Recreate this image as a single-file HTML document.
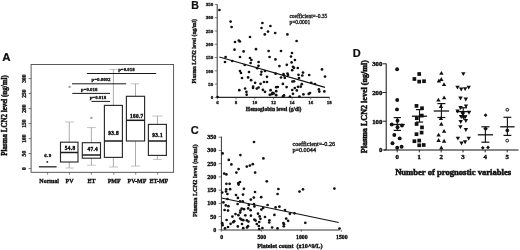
<!DOCTYPE html>
<html><head><meta charset="utf-8"><style>
html,body{margin:0;padding:0;background:#fff;width:520px;height:250px;overflow:hidden}
svg{display:block;will-change:transform}
</style></head><body>
<svg width="520" height="250" viewBox="0 0 520 250">
<rect width="520" height="250" fill="#fff"/>
<text x="2.2" y="61.4" font-size="11.5" font-weight="bold" font-family='"Liberation Sans", sans-serif' text-anchor="start" fill="#111" stroke="#111" stroke-width="0.23">A</text>
<rect x="31.1" y="64.5" width="142.5" height="107.8" stroke="#4a4a4a" stroke-width="0.9" fill="none"/>
<line x1="28.6" y1="168.6" x2="31.1" y2="168.6" stroke="#555" stroke-width="0.8"/>
<text x="25.6" y="168.6" font-size="5.6" font-weight="bold" font-family='"Liberation Serif", serif' text-anchor="middle" fill="#111" stroke="#111" stroke-width="0.336" transform="rotate(-90 25.6 168.6)">0</text>
<line x1="28.6" y1="153.6" x2="31.1" y2="153.6" stroke="#555" stroke-width="0.8"/>
<text x="25.6" y="153.6" font-size="5.6" font-weight="bold" font-family='"Liberation Serif", serif' text-anchor="middle" fill="#111" stroke="#111" stroke-width="0.336" transform="rotate(-90 25.6 153.6)">50</text>
<line x1="28.6" y1="138.6" x2="31.1" y2="138.6" stroke="#555" stroke-width="0.8"/>
<text x="25.6" y="138.6" font-size="5.6" font-weight="bold" font-family='"Liberation Serif", serif' text-anchor="middle" fill="#111" stroke="#111" stroke-width="0.336" transform="rotate(-90 25.6 138.6)">100</text>
<line x1="28.6" y1="123.6" x2="31.1" y2="123.6" stroke="#555" stroke-width="0.8"/>
<text x="25.6" y="123.6" font-size="5.6" font-weight="bold" font-family='"Liberation Serif", serif' text-anchor="middle" fill="#111" stroke="#111" stroke-width="0.336" transform="rotate(-90 25.6 123.6)">150</text>
<line x1="28.6" y1="108.6" x2="31.1" y2="108.6" stroke="#555" stroke-width="0.8"/>
<text x="25.6" y="108.6" font-size="5.6" font-weight="bold" font-family='"Liberation Serif", serif' text-anchor="middle" fill="#111" stroke="#111" stroke-width="0.336" transform="rotate(-90 25.6 108.6)">200</text>
<line x1="28.6" y1="93.6" x2="31.1" y2="93.6" stroke="#555" stroke-width="0.8"/>
<text x="25.6" y="93.6" font-size="5.6" font-weight="bold" font-family='"Liberation Serif", serif' text-anchor="middle" fill="#111" stroke="#111" stroke-width="0.336" transform="rotate(-90 25.6 93.6)">250</text>
<line x1="28.6" y1="78.6" x2="31.1" y2="78.6" stroke="#555" stroke-width="0.8"/>
<text x="25.6" y="78.6" font-size="5.6" font-weight="bold" font-family='"Liberation Serif", serif' text-anchor="middle" fill="#111" stroke="#111" stroke-width="0.336" transform="rotate(-90 25.6 78.6)">300</text>
<text x="0" y="0" font-size="7.6" font-weight="bold" font-family='"Liberation Serif", serif' text-anchor="middle" fill="#111" stroke="#111" stroke-width="0.456" transform="translate(6.5 115.5) rotate(-90) scale(0.92 1.0)">Plasma LCN2 level (ng/ml)</text>
<line x1="47.6" y1="172.3" x2="47.6" y2="174.6" stroke="#555" stroke-width="0.8"/>
<line x1="69.4" y1="172.3" x2="69.4" y2="174.6" stroke="#555" stroke-width="0.8"/>
<line x1="91.4" y1="172.3" x2="91.4" y2="174.6" stroke="#555" stroke-width="0.8"/>
<line x1="113.8" y1="172.3" x2="113.8" y2="174.6" stroke="#555" stroke-width="0.8"/>
<line x1="135.7" y1="172.3" x2="135.7" y2="174.6" stroke="#555" stroke-width="0.8"/>
<line x1="157.7" y1="172.3" x2="157.7" y2="174.6" stroke="#555" stroke-width="0.8"/>
<text x="49.2" y="182.8" font-size="6.0" font-weight="bold" font-family='"Liberation Serif", serif' text-anchor="middle" fill="#111" stroke="#111" stroke-width="0.36">Normal</text>
<text x="69.5" y="182.8" font-size="6.0" font-weight="bold" font-family='"Liberation Serif", serif' text-anchor="middle" fill="#111" stroke="#111" stroke-width="0.36">PV</text>
<text x="91.4" y="182.8" font-size="6.0" font-weight="bold" font-family='"Liberation Serif", serif' text-anchor="middle" fill="#111" stroke="#111" stroke-width="0.36">ET</text>
<text x="114.2" y="182.8" font-size="6.0" font-weight="bold" font-family='"Liberation Serif", serif' text-anchor="middle" fill="#111" stroke="#111" stroke-width="0.36">PMF</text>
<text x="137" y="182.8" font-size="6.0" font-weight="bold" font-family='"Liberation Serif", serif' text-anchor="middle" fill="#111" stroke="#111" stroke-width="0.36">PV-MF</text>
<text x="158.9" y="182.8" font-size="6.0" font-weight="bold" font-family='"Liberation Serif", serif' text-anchor="middle" fill="#111" stroke="#111" stroke-width="0.36">ET-MF</text>
<line x1="69.25" y1="122" x2="69.25" y2="142.2" stroke="#888" stroke-width="0.7"/>
<line x1="69.25" y1="162" x2="69.25" y2="168" stroke="#888" stroke-width="0.7"/>
<line x1="65" y1="122" x2="74" y2="122" stroke="#aaa" stroke-width="0.7"/>
<line x1="65.6" y1="168" x2="73.6" y2="168" stroke="#aaa" stroke-width="0.7"/>
<rect x="60.5" y="142.2" width="17.5" height="19.80000000000001" stroke="#2a2a2a" stroke-width="1.15" fill="none"/>
<line x1="60.5" y1="152.5" x2="78" y2="152.5" stroke="#1a1a1a" stroke-width="1.5"/>
<line x1="91.4" y1="127.6" x2="91.4" y2="142.7" stroke="#888" stroke-width="0.7"/>
<line x1="91.4" y1="158.2" x2="91.4" y2="165.2" stroke="#888" stroke-width="0.7"/>
<line x1="87" y1="127.6" x2="95.8" y2="127.6" stroke="#aaa" stroke-width="0.7"/>
<line x1="87" y1="165.2" x2="95.8" y2="165.2" stroke="#aaa" stroke-width="0.7"/>
<rect x="82.3" y="142.7" width="18.200000000000003" height="15.5" stroke="#2a2a2a" stroke-width="1.15" fill="none"/>
<line x1="82.3" y1="155" x2="100.5" y2="155" stroke="#1a1a1a" stroke-width="1.5"/>
<line x1="113.4" y1="69.4" x2="113.4" y2="105.4" stroke="#888" stroke-width="0.7"/>
<line x1="113.4" y1="157.4" x2="113.4" y2="167" stroke="#888" stroke-width="0.7"/>
<line x1="109.2" y1="69.4" x2="117" y2="69.4" stroke="#aaa" stroke-width="0.7"/>
<line x1="109" y1="167" x2="118" y2="167" stroke="#aaa" stroke-width="0.7"/>
<rect x="104.4" y="105.4" width="18.0" height="52.0" stroke="#2a2a2a" stroke-width="1.15" fill="none"/>
<line x1="104.4" y1="141" x2="122.4" y2="141" stroke="#1a1a1a" stroke-width="1.5"/>
<line x1="135.5" y1="83.8" x2="135.5" y2="96.3" stroke="#888" stroke-width="0.7"/>
<line x1="135.5" y1="141" x2="135.5" y2="166" stroke="#888" stroke-width="0.7"/>
<line x1="130.8" y1="83.8" x2="139.2" y2="83.8" stroke="#aaa" stroke-width="0.7"/>
<line x1="131" y1="166" x2="140" y2="166" stroke="#aaa" stroke-width="0.7"/>
<rect x="126.4" y="96.3" width="18.19999999999999" height="44.7" stroke="#2a2a2a" stroke-width="1.15" fill="none"/>
<line x1="126.4" y1="120.3" x2="144.6" y2="120.3" stroke="#1a1a1a" stroke-width="1.5"/>
<line x1="157.4" y1="116" x2="157.4" y2="124.4" stroke="#888" stroke-width="0.7"/>
<line x1="157.4" y1="155.4" x2="157.4" y2="159.4" stroke="#888" stroke-width="0.7"/>
<line x1="152.4" y1="116" x2="162.4" y2="116" stroke="#aaa" stroke-width="0.7"/>
<line x1="153" y1="159.4" x2="161.6" y2="159.4" stroke="#aaa" stroke-width="0.7"/>
<rect x="148.4" y="124.4" width="18.0" height="31.0" stroke="#2a2a2a" stroke-width="1.15" fill="none"/>
<line x1="148.4" y1="141" x2="166.4" y2="141" stroke="#1a1a1a" stroke-width="1.5"/>
<line x1="38.9" y1="166.8" x2="56.6" y2="166.8" stroke="#333" stroke-width="1.4"/>
<circle cx="47.3" cy="161.9" r="0.95" fill="#222"/>
<text x="47.9" y="157.2" font-size="5.0" font-weight="bold" font-family='"Liberation Serif", serif' text-anchor="middle" fill="#111" stroke="#111" stroke-width="0.35" letter-spacing="0.35">6.9</text>
<text x="69.5" y="89.10000000000001" font-size="4.5" font-weight="bold" font-family='"Liberation Serif", serif' text-anchor="middle" fill="#888" stroke="#888" stroke-width="0.27">*</text>
<text x="91.4" y="120.2" font-size="4.5" font-weight="bold" font-family='"Liberation Serif", serif' text-anchor="middle" fill="#888" stroke="#888" stroke-width="0.27">*</text>
<text x="70.08000000000001" y="149.8" font-size="5.3" font-weight="bold" font-family='"Liberation Serif", serif' text-anchor="middle" fill="#111" stroke="#111" stroke-width="0.4" letter-spacing="0.35">54.8</text>
<text x="92.78" y="151.10000000000002" font-size="5.3" font-weight="bold" font-family='"Liberation Serif", serif' text-anchor="middle" fill="#111" stroke="#111" stroke-width="0.4" letter-spacing="0.35">47.4</text>
<text x="113.58000000000001" y="135.4" font-size="5.3" font-weight="bold" font-family='"Liberation Serif", serif' text-anchor="middle" fill="#111" stroke="#111" stroke-width="0.4" letter-spacing="0.35">93.8</text>
<text x="136.78" y="117.7" font-size="5.3" font-weight="bold" font-family='"Liberation Serif", serif' text-anchor="middle" fill="#111" stroke="#111" stroke-width="0.4" letter-spacing="0.35">160.7</text>
<text x="157.68" y="137.4" font-size="5.3" font-weight="bold" font-family='"Liberation Serif", serif' text-anchor="middle" fill="#111" stroke="#111" stroke-width="0.4" letter-spacing="0.35">93.1</text>
<line x1="86.9" y1="73.5" x2="156.2" y2="73.5" stroke="#1a1a1a" stroke-width="1.0"/>
<line x1="72" y1="83.8" x2="126.2" y2="83.8" stroke="#1a1a1a" stroke-width="1.0"/>
<line x1="72.3" y1="93.4" x2="110" y2="93.4" stroke="#1a1a1a" stroke-width="1.0"/>
<line x1="91.5" y1="101.4" x2="110" y2="101.4" stroke="#1a1a1a" stroke-width="1.0"/>
<text x="126.4" y="71.19999999999999" font-size="4.9" font-weight="bold" font-family='"Liberation Serif", serif' text-anchor="middle" fill="#111" stroke="#111" stroke-width="0.294">p=0.018</text>
<text x="101" y="81.3" font-size="4.9" font-weight="bold" font-family='"Liberation Serif", serif' text-anchor="middle" fill="#111" stroke="#111" stroke-width="0.294">p=0.0002</text>
<text x="89.2" y="91.1" font-size="4.9" font-weight="bold" font-family='"Liberation Serif", serif' text-anchor="middle" fill="#111" stroke="#111" stroke-width="0.294">p=0.018</text>
<text x="97.9" y="99.3" font-size="4.9" font-weight="bold" font-family='"Liberation Serif", serif' text-anchor="middle" fill="#111" stroke="#111" stroke-width="0.294">p=0.018</text>
<text x="191.3" y="8.6" font-size="10.6" font-weight="bold" font-family='"Liberation Sans", sans-serif' text-anchor="start" fill="#111" stroke="#111" stroke-width="0.212">B</text>
<line x1="217.2" y1="4.2" x2="217.2" y2="97.4" stroke="#2a2a2a" stroke-width="0.95"/>
<line x1="217.2" y1="97.4" x2="329.6" y2="97.4" stroke="#2a2a2a" stroke-width="1.1"/>
<line x1="214.8" y1="97.4" x2="217" y2="97.4" stroke="#444" stroke-width="0.7"/>
<text x="213.3" y="99.10000000000001" font-size="5.0" font-weight="bold" font-family='"Liberation Serif", serif' text-anchor="end" fill="#111" stroke="#111" stroke-width="0.3">0</text>
<line x1="214.8" y1="84.11500000000001" x2="217" y2="84.11500000000001" stroke="#444" stroke-width="0.7"/>
<text x="213.3" y="85.81500000000001" font-size="5.0" font-weight="bold" font-family='"Liberation Serif", serif' text-anchor="end" fill="#111" stroke="#111" stroke-width="0.3">50</text>
<line x1="214.8" y1="70.83000000000001" x2="217" y2="70.83000000000001" stroke="#444" stroke-width="0.7"/>
<text x="213.3" y="72.53000000000002" font-size="5.0" font-weight="bold" font-family='"Liberation Serif", serif' text-anchor="end" fill="#111" stroke="#111" stroke-width="0.3">100</text>
<line x1="214.8" y1="57.54500000000001" x2="217" y2="57.54500000000001" stroke="#444" stroke-width="0.7"/>
<text x="213.3" y="59.24500000000001" font-size="5.0" font-weight="bold" font-family='"Liberation Serif", serif' text-anchor="end" fill="#111" stroke="#111" stroke-width="0.3">150</text>
<line x1="214.8" y1="44.260000000000005" x2="217" y2="44.260000000000005" stroke="#444" stroke-width="0.7"/>
<text x="213.3" y="45.96000000000001" font-size="5.0" font-weight="bold" font-family='"Liberation Serif", serif' text-anchor="end" fill="#111" stroke="#111" stroke-width="0.3">200</text>
<line x1="214.8" y1="30.97500000000001" x2="217" y2="30.97500000000001" stroke="#444" stroke-width="0.7"/>
<text x="213.3" y="32.67500000000001" font-size="5.0" font-weight="bold" font-family='"Liberation Serif", serif' text-anchor="end" fill="#111" stroke="#111" stroke-width="0.3">250</text>
<line x1="214.8" y1="17.690000000000012" x2="217" y2="17.690000000000012" stroke="#444" stroke-width="0.7"/>
<text x="213.3" y="19.39000000000001" font-size="5.0" font-weight="bold" font-family='"Liberation Serif", serif' text-anchor="end" fill="#111" stroke="#111" stroke-width="0.3">300</text>
<line x1="214.8" y1="4.405000000000015" x2="217" y2="4.405000000000015" stroke="#444" stroke-width="0.7"/>
<text x="213.3" y="6.1050000000000155" font-size="5.0" font-weight="bold" font-family='"Liberation Serif", serif' text-anchor="end" fill="#111" stroke="#111" stroke-width="0.3">350</text>
<line x1="217.4" y1="97.4" x2="217.4" y2="99.4" stroke="#444" stroke-width="0.7"/>
<text x="217.4" y="103.6" font-size="5.0" font-weight="bold" font-family='"Liberation Serif", serif' text-anchor="middle" fill="#111" stroke="#111" stroke-width="0.3">6</text>
<line x1="236.06" y1="97.4" x2="236.06" y2="99.4" stroke="#444" stroke-width="0.7"/>
<text x="236.06" y="103.6" font-size="5.0" font-weight="bold" font-family='"Liberation Serif", serif' text-anchor="middle" fill="#111" stroke="#111" stroke-width="0.3">8</text>
<line x1="254.72" y1="97.4" x2="254.72" y2="99.4" stroke="#444" stroke-width="0.7"/>
<text x="254.72" y="103.6" font-size="5.0" font-weight="bold" font-family='"Liberation Serif", serif' text-anchor="middle" fill="#111" stroke="#111" stroke-width="0.3">10</text>
<line x1="273.38" y1="97.4" x2="273.38" y2="99.4" stroke="#444" stroke-width="0.7"/>
<text x="273.38" y="103.6" font-size="5.0" font-weight="bold" font-family='"Liberation Serif", serif' text-anchor="middle" fill="#111" stroke="#111" stroke-width="0.3">12</text>
<line x1="292.04" y1="97.4" x2="292.04" y2="99.4" stroke="#444" stroke-width="0.7"/>
<text x="292.04" y="103.6" font-size="5.0" font-weight="bold" font-family='"Liberation Serif", serif' text-anchor="middle" fill="#111" stroke="#111" stroke-width="0.3">14</text>
<line x1="310.7" y1="97.4" x2="310.7" y2="99.4" stroke="#444" stroke-width="0.7"/>
<text x="310.7" y="103.6" font-size="5.0" font-weight="bold" font-family='"Liberation Serif", serif' text-anchor="middle" fill="#111" stroke="#111" stroke-width="0.3">16</text>
<line x1="329.36" y1="97.4" x2="329.36" y2="99.4" stroke="#444" stroke-width="0.7"/>
<text x="329.36" y="103.6" font-size="5.0" font-weight="bold" font-family='"Liberation Serif", serif' text-anchor="middle" fill="#111" stroke="#111" stroke-width="0.3">18</text>
<text x="196.4" y="51.3" font-size="5.6" font-weight="bold" font-family='"Liberation Serif", serif' text-anchor="middle" fill="#111" stroke="#111" stroke-width="0.336" transform="rotate(-90 196.4 51.3)">Plasma LCN2 level (ng/ml)</text>
<text x="273.6" y="111.2" font-size="5.6" font-weight="bold" font-family='"Liberation Serif", serif' text-anchor="middle" fill="#111" stroke="#111" stroke-width="0.336">Hemoglobin level (g/dl)</text>
<text x="289.4" y="18.2" font-size="5.5" font-weight="normal" font-family='"Liberation Serif", serif' text-anchor="start" fill="#111" stroke="#111" stroke-width="0.275">coefficient=-0.35</text>
<text x="289.4" y="24.2" font-size="5.5" font-weight="normal" font-family='"Liberation Serif", serif' text-anchor="start" fill="#111" stroke="#111" stroke-width="0.275">p=0.0001</text>
<line x1="219.4" y1="57" x2="325" y2="87.4" stroke="#111" stroke-width="1.2"/>
<circle cx="219.4" cy="10.0" r="1.35" fill="#111"/>
<circle cx="230.6" cy="21.6" r="1.35" fill="#111"/>
<circle cx="231.6" cy="27.0" r="1.35" fill="#111"/>
<circle cx="235.0" cy="42.0" r="1.35" fill="#111"/>
<circle cx="250.0" cy="37.0" r="1.35" fill="#111"/>
<circle cx="234.5" cy="49.7" r="1.35" fill="#111"/>
<circle cx="256.0" cy="49.2" r="1.35" fill="#111"/>
<circle cx="262.4" cy="23.0" r="1.35" fill="#111"/>
<circle cx="261.5" cy="28.0" r="1.35" fill="#111"/>
<circle cx="264.8" cy="34.4" r="1.35" fill="#111"/>
<circle cx="270.4" cy="26.0" r="1.35" fill="#111"/>
<circle cx="268.0" cy="31.6" r="1.35" fill="#111"/>
<circle cx="275.2" cy="33.0" r="1.35" fill="#111"/>
<circle cx="287.4" cy="34.4" r="1.35" fill="#111"/>
<circle cx="296.6" cy="41.0" r="1.35" fill="#111"/>
<circle cx="225.6" cy="57.0" r="1.35" fill="#111"/>
<circle cx="225.0" cy="62.0" r="1.35" fill="#111"/>
<circle cx="240.0" cy="57.0" r="1.35" fill="#111"/>
<circle cx="243.6" cy="51.4" r="1.35" fill="#111"/>
<circle cx="244.7" cy="65.0" r="1.35" fill="#111"/>
<circle cx="240.0" cy="71.0" r="1.35" fill="#111"/>
<circle cx="241.0" cy="73.0" r="1.35" fill="#111"/>
<circle cx="242.0" cy="78.0" r="1.35" fill="#111"/>
<circle cx="248.1" cy="77.4" r="1.35" fill="#111"/>
<circle cx="249.0" cy="72.0" r="1.35" fill="#111"/>
<circle cx="250.0" cy="58.0" r="1.35" fill="#111"/>
<circle cx="251.4" cy="60.0" r="1.35" fill="#111"/>
<circle cx="250.6" cy="63.0" r="1.35" fill="#111"/>
<circle cx="251.1" cy="80.2" r="1.35" fill="#111"/>
<circle cx="258.6" cy="62.0" r="1.35" fill="#111"/>
<circle cx="255.1" cy="82.8" r="1.35" fill="#111"/>
<circle cx="253.1" cy="86.7" r="1.35" fill="#111"/>
<circle cx="253.0" cy="88.0" r="1.35" fill="#111"/>
<circle cx="239.3" cy="90.2" r="1.35" fill="#111"/>
<circle cx="245.1" cy="88.5" r="1.35" fill="#111"/>
<circle cx="246.4" cy="91.8" r="1.35" fill="#111"/>
<circle cx="246.7" cy="94.7" r="1.35" fill="#111"/>
<circle cx="232.2" cy="61.0" r="1.35" fill="#111"/>
<circle cx="268.6" cy="51.0" r="1.35" fill="#111"/>
<circle cx="281.0" cy="51.0" r="1.35" fill="#111"/>
<circle cx="269.6" cy="57.0" r="1.35" fill="#111"/>
<circle cx="275.4" cy="59.4" r="1.35" fill="#111"/>
<circle cx="292.0" cy="53.0" r="1.35" fill="#111"/>
<circle cx="291.0" cy="56.6" r="1.35" fill="#111"/>
<circle cx="294.9" cy="60.0" r="1.35" fill="#111"/>
<circle cx="291.6" cy="62.4" r="1.35" fill="#111"/>
<circle cx="303.0" cy="72.6" r="1.35" fill="#111"/>
<circle cx="302.3" cy="75.5" r="1.35" fill="#111"/>
<circle cx="309.2" cy="75.0" r="1.35" fill="#111"/>
<circle cx="301.8" cy="84.2" r="1.35" fill="#111"/>
<circle cx="300.7" cy="86.7" r="1.35" fill="#111"/>
<circle cx="303.4" cy="94.3" r="1.35" fill="#111"/>
<circle cx="322.0" cy="69.4" r="1.35" fill="#111"/>
<circle cx="325.0" cy="76.6" r="1.35" fill="#111"/>
<circle cx="311.2" cy="82.8" r="1.35" fill="#111"/>
<circle cx="315.0" cy="84.0" r="1.35" fill="#111"/>
<circle cx="318.9" cy="89.4" r="1.35" fill="#111"/>
<circle cx="319.3" cy="91.6" r="1.35" fill="#111"/>
<circle cx="324.3" cy="91.4" r="1.35" fill="#111"/>
<circle cx="308.7" cy="93.9" r="1.35" fill="#111"/>
<circle cx="310.0" cy="93.0" r="1.35" fill="#111"/>
<circle cx="258.5" cy="65.8" r="1.35" fill="#111"/>
<circle cx="257.2" cy="68.2" r="1.35" fill="#111"/>
<circle cx="261.5" cy="71.8" r="1.35" fill="#111"/>
<circle cx="261.0" cy="74.5" r="1.35" fill="#111"/>
<circle cx="265.0" cy="71.0" r="1.35" fill="#111"/>
<circle cx="267.0" cy="76.8" r="1.35" fill="#111"/>
<circle cx="275.6" cy="73.7" r="1.35" fill="#111"/>
<circle cx="260.6" cy="83.8" r="1.35" fill="#111"/>
<circle cx="264.0" cy="82.0" r="1.35" fill="#111"/>
<circle cx="267.0" cy="82.0" r="1.35" fill="#111"/>
<circle cx="258.6" cy="87.5" r="1.35" fill="#111"/>
<circle cx="277.8" cy="87.0" r="1.35" fill="#111"/>
<circle cx="279.4" cy="66.1" r="1.35" fill="#111"/>
<circle cx="286.8" cy="64.8" r="1.35" fill="#111"/>
<circle cx="293.0" cy="66.8" r="1.35" fill="#111"/>
<circle cx="294.0" cy="67.8" r="1.35" fill="#111"/>
<circle cx="297.8" cy="68.0" r="1.35" fill="#111"/>
<circle cx="292.2" cy="70.2" r="1.35" fill="#111"/>
<circle cx="283.5" cy="74.2" r="1.35" fill="#111"/>
<circle cx="284.0" cy="75.5" r="1.35" fill="#111"/>
<circle cx="287.5" cy="73.5" r="1.35" fill="#111"/>
<circle cx="288.0" cy="75.0" r="1.35" fill="#111"/>
<circle cx="281.0" cy="77.5" r="1.35" fill="#111"/>
<circle cx="284.8" cy="77.8" r="1.35" fill="#111"/>
<circle cx="298.5" cy="74.8" r="1.35" fill="#111"/>
<circle cx="292.4" cy="81.5" r="1.35" fill="#111"/>
<circle cx="294.0" cy="81.3" r="1.35" fill="#111"/>
<circle cx="282.9" cy="83.9" r="1.35" fill="#111"/>
<circle cx="299.0" cy="78.0" r="1.35" fill="#111"/>
<circle cx="286.6" cy="87.1" r="1.35" fill="#111"/>
<circle cx="298.0" cy="86.8" r="1.35" fill="#111"/>
<circle cx="256.8" cy="88.6" r="1.35" fill="#111"/>
<circle cx="262.9" cy="89.8" r="1.35" fill="#111"/>
<circle cx="265.0" cy="91.8" r="1.35" fill="#111"/>
<circle cx="270.6" cy="90.2" r="1.35" fill="#111"/>
<circle cx="276.2" cy="87.2" r="1.35" fill="#111"/>
<circle cx="276.2" cy="91.2" r="1.35" fill="#111"/>
<circle cx="272.6" cy="92.8" r="1.35" fill="#111"/>
<circle cx="273.8" cy="93.6" r="1.35" fill="#111"/>
<circle cx="269.8" cy="94.8" r="1.35" fill="#111"/>
<circle cx="271.8" cy="94.2" r="1.35" fill="#111"/>
<circle cx="276.2" cy="95.2" r="1.35" fill="#111"/>
<circle cx="294.8" cy="88.0" r="1.35" fill="#111"/>
<circle cx="292.2" cy="90.0" r="1.35" fill="#111"/>
<circle cx="296.8" cy="90.4" r="1.35" fill="#111"/>
<circle cx="293.0" cy="93.8" r="1.35" fill="#111"/>
<circle cx="284.0" cy="95.4" r="1.35" fill="#111"/>
<circle cx="283.0" cy="96.4" r="1.35" fill="#111"/>
<circle cx="290.0" cy="96.6" r="1.35" fill="#111"/>
<circle cx="299.4" cy="96.6" r="1.35" fill="#111"/>
<circle cx="238.8" cy="40.5" r="1.35" fill="#111"/>
<circle cx="239.9" cy="41.5" r="1.35" fill="#111"/>
<circle cx="217.6" cy="97.0" r="1.35" fill="#111"/>
<text x="190.8" y="133.6" font-size="11" font-weight="bold" font-family='"Liberation Sans", sans-serif' text-anchor="start" fill="#111" stroke="#111" stroke-width="0.22">C</text>
<line x1="221.4" y1="136.5" x2="221.4" y2="230" stroke="#2a2a2a" stroke-width="0.95"/>
<line x1="221.4" y1="230" x2="339.5" y2="230" stroke="#333" stroke-width="1.2"/>
<line x1="218.6" y1="229.8" x2="221.3" y2="229.8" stroke="#444" stroke-width="0.7"/>
<text x="216.3" y="231.85000000000002" font-size="6.0" font-weight="bold" font-family='"Liberation Serif", serif' text-anchor="end" fill="#111" stroke="#111" stroke-width="0.36">0</text>
<line x1="218.6" y1="216.57000000000002" x2="221.3" y2="216.57000000000002" stroke="#444" stroke-width="0.7"/>
<text x="216.3" y="218.62000000000003" font-size="6.0" font-weight="bold" font-family='"Liberation Serif", serif' text-anchor="end" fill="#111" stroke="#111" stroke-width="0.36">50</text>
<line x1="218.6" y1="203.34" x2="221.3" y2="203.34" stroke="#444" stroke-width="0.7"/>
<text x="216.3" y="205.39000000000001" font-size="6.0" font-weight="bold" font-family='"Liberation Serif", serif' text-anchor="end" fill="#111" stroke="#111" stroke-width="0.36">100</text>
<line x1="218.6" y1="190.11" x2="221.3" y2="190.11" stroke="#444" stroke-width="0.7"/>
<text x="216.3" y="192.16000000000003" font-size="6.0" font-weight="bold" font-family='"Liberation Serif", serif' text-anchor="end" fill="#111" stroke="#111" stroke-width="0.36">150</text>
<line x1="218.6" y1="176.88" x2="221.3" y2="176.88" stroke="#444" stroke-width="0.7"/>
<text x="216.3" y="178.93" font-size="6.0" font-weight="bold" font-family='"Liberation Serif", serif' text-anchor="end" fill="#111" stroke="#111" stroke-width="0.36">200</text>
<line x1="218.6" y1="163.65" x2="221.3" y2="163.65" stroke="#444" stroke-width="0.7"/>
<text x="216.3" y="165.70000000000002" font-size="6.0" font-weight="bold" font-family='"Liberation Serif", serif' text-anchor="end" fill="#111" stroke="#111" stroke-width="0.36">250</text>
<line x1="218.6" y1="150.42000000000002" x2="221.3" y2="150.42000000000002" stroke="#444" stroke-width="0.7"/>
<text x="216.3" y="152.47000000000003" font-size="6.0" font-weight="bold" font-family='"Liberation Serif", serif' text-anchor="end" fill="#111" stroke="#111" stroke-width="0.36">300</text>
<line x1="218.6" y1="137.19" x2="221.3" y2="137.19" stroke="#444" stroke-width="0.7"/>
<text x="216.3" y="139.24" font-size="6.0" font-weight="bold" font-family='"Liberation Serif", serif' text-anchor="end" fill="#111" stroke="#111" stroke-width="0.36">350</text>
<line x1="221.3" y1="229.8" x2="221.3" y2="231.8" stroke="#444" stroke-width="0.7"/>
<text x="221.8" y="239.2" font-size="5.8" font-weight="bold" font-family='"Liberation Serif", serif' text-anchor="middle" fill="#111" stroke="#111" stroke-width="0.348">0</text>
<line x1="261.3" y1="229.8" x2="261.3" y2="231.8" stroke="#444" stroke-width="0.7"/>
<text x="261.8" y="239.2" font-size="5.8" font-weight="bold" font-family='"Liberation Serif", serif' text-anchor="middle" fill="#111" stroke="#111" stroke-width="0.348">500</text>
<line x1="301.3" y1="229.8" x2="301.3" y2="231.8" stroke="#444" stroke-width="0.7"/>
<text x="301.8" y="239.2" font-size="5.8" font-weight="bold" font-family='"Liberation Serif", serif' text-anchor="middle" fill="#111" stroke="#111" stroke-width="0.348">1000</text>
<line x1="341.3" y1="229.8" x2="341.3" y2="231.8" stroke="#444" stroke-width="0.7"/>
<text x="341.8" y="239.2" font-size="5.8" font-weight="bold" font-family='"Liberation Serif", serif' text-anchor="middle" fill="#111" stroke="#111" stroke-width="0.348">1500</text>
<text x="197.1" y="180.8" font-size="6.3" font-weight="bold" font-family='"Liberation Serif", serif' text-anchor="middle" fill="#111" stroke="#111" stroke-width="0.378" transform="rotate(-90 197.1 180.8)">Plasma LCN2 level (ng/ml)</text>
<text x="257.2" y="247.6" font-size="6.2" font-weight="bold" font-family='"Liberation Serif", serif' text-anchor="start" fill="#111" stroke="#111" stroke-width="0.372">Platelet count&#160;&#160;(x10^9/L)</text>
<text x="292.4" y="146.3" font-size="6.2" font-weight="normal" font-family='"Liberation Serif", serif' text-anchor="start" fill="#111" stroke="#111" stroke-width="0.31">coefficient=-0.26</text>
<text x="292.4" y="152.3" font-size="6.2" font-weight="normal" font-family='"Liberation Serif", serif' text-anchor="start" fill="#111" stroke="#111" stroke-width="0.31">p=0.0044</text>
<line x1="221.6" y1="198" x2="338.7" y2="222.5" stroke="#111" stroke-width="1.2"/>
<circle cx="222.6" cy="153.4" r="1.35" fill="#111"/>
<circle cx="228.8" cy="159.9" r="1.35" fill="#111"/>
<circle cx="231.4" cy="164.4" r="1.35" fill="#111"/>
<circle cx="224.2" cy="173.6" r="1.35" fill="#111"/>
<circle cx="226.4" cy="174.4" r="1.35" fill="#111"/>
<circle cx="236.4" cy="172.6" r="1.35" fill="#111"/>
<circle cx="238.6" cy="169.1" r="1.35" fill="#111"/>
<circle cx="240.4" cy="155.1" r="1.35" fill="#111"/>
<circle cx="246.8" cy="166.6" r="1.35" fill="#111"/>
<circle cx="249.9" cy="165.6" r="1.35" fill="#111"/>
<circle cx="252.8" cy="164.2" r="1.35" fill="#111"/>
<circle cx="254.0" cy="142.0" r="1.35" fill="#111"/>
<circle cx="255.1" cy="172.6" r="1.35" fill="#111"/>
<circle cx="263.4" cy="158.4" r="1.35" fill="#111"/>
<circle cx="266.8" cy="181.3" r="1.35" fill="#111"/>
<circle cx="226.4" cy="183.8" r="1.35" fill="#111"/>
<circle cx="229.6" cy="183.8" r="1.35" fill="#111"/>
<circle cx="238.3" cy="183.2" r="1.35" fill="#111"/>
<circle cx="226.2" cy="189.4" r="1.35" fill="#111"/>
<circle cx="230.1" cy="189.2" r="1.35" fill="#111"/>
<circle cx="243.9" cy="188.8" r="1.35" fill="#111"/>
<circle cx="240.0" cy="182.0" r="1.35" fill="#111"/>
<circle cx="227.4" cy="194.0" r="1.35" fill="#111"/>
<circle cx="236.0" cy="195.0" r="1.35" fill="#111"/>
<circle cx="243.0" cy="194.6" r="1.35" fill="#111"/>
<circle cx="255.0" cy="192.0" r="1.35" fill="#111"/>
<circle cx="278.4" cy="189.0" r="1.35" fill="#111"/>
<circle cx="277.6" cy="194.0" r="1.35" fill="#111"/>
<circle cx="299.5" cy="191.6" r="1.35" fill="#111"/>
<circle cx="303.0" cy="189.3" r="1.35" fill="#111"/>
<circle cx="267.6" cy="205.0" r="1.35" fill="#111"/>
<circle cx="275.6" cy="207.4" r="1.35" fill="#111"/>
<circle cx="279.4" cy="206.7" r="1.35" fill="#111"/>
<circle cx="285.0" cy="210.0" r="1.35" fill="#111"/>
<circle cx="289.9" cy="213.8" r="1.35" fill="#111"/>
<circle cx="274.4" cy="214.9" r="1.35" fill="#111"/>
<circle cx="286.2" cy="218.6" r="1.35" fill="#111"/>
<circle cx="288.1" cy="220.8" r="1.35" fill="#111"/>
<circle cx="283.4" cy="223.0" r="1.35" fill="#111"/>
<circle cx="269.2" cy="222.5" r="1.35" fill="#111"/>
<circle cx="305.3" cy="222.8" r="1.35" fill="#111"/>
<circle cx="334.4" cy="188.6" r="1.35" fill="#111"/>
<circle cx="269.4" cy="220.3" r="1.35" fill="#111"/>
<circle cx="272.1" cy="227.5" r="1.35" fill="#111"/>
<circle cx="277.5" cy="228.4" r="1.35" fill="#111"/>
<circle cx="283.8" cy="226.3" r="1.35" fill="#111"/>
<circle cx="227.4" cy="199.0" r="1.35" fill="#111"/>
<circle cx="237.9" cy="197.9" r="1.35" fill="#111"/>
<circle cx="240.0" cy="201.4" r="1.35" fill="#111"/>
<circle cx="223.4" cy="202.4" r="1.35" fill="#111"/>
<circle cx="237.6" cy="204.0" r="1.35" fill="#111"/>
<circle cx="225.8" cy="205.4" r="1.35" fill="#111"/>
<circle cx="228.4" cy="206.2" r="1.35" fill="#111"/>
<circle cx="224.6" cy="210.0" r="1.35" fill="#111"/>
<circle cx="228.0" cy="210.6" r="1.35" fill="#111"/>
<circle cx="241.7" cy="208.6" r="1.35" fill="#111"/>
<circle cx="240.4" cy="210.6" r="1.35" fill="#111"/>
<circle cx="240.2" cy="212.6" r="1.35" fill="#111"/>
<circle cx="235.5" cy="214.1" r="1.35" fill="#111"/>
<circle cx="238.4" cy="215.2" r="1.35" fill="#111"/>
<circle cx="242.7" cy="201.3" r="1.35" fill="#111"/>
<circle cx="253.8" cy="197.6" r="1.35" fill="#111"/>
<circle cx="261.2" cy="197.2" r="1.35" fill="#111"/>
<circle cx="250.8" cy="199.6" r="1.35" fill="#111"/>
<circle cx="248.8" cy="205.0" r="1.35" fill="#111"/>
<circle cx="254.0" cy="204.0" r="1.35" fill="#111"/>
<circle cx="254.4" cy="206.4" r="1.35" fill="#111"/>
<circle cx="244.0" cy="209.2" r="1.35" fill="#111"/>
<circle cx="248.2" cy="208.4" r="1.35" fill="#111"/>
<circle cx="250.6" cy="210.2" r="1.35" fill="#111"/>
<circle cx="261.4" cy="209.6" r="1.35" fill="#111"/>
<circle cx="263.2" cy="208.0" r="1.35" fill="#111"/>
<circle cx="258.0" cy="213.7" r="1.35" fill="#111"/>
<circle cx="245.3" cy="215.3" r="1.35" fill="#111"/>
<circle cx="250.9" cy="215.7" r="1.35" fill="#111"/>
<circle cx="232.4" cy="216.6" r="1.35" fill="#111"/>
<circle cx="226.6" cy="220.0" r="1.35" fill="#111"/>
<circle cx="234.2" cy="221.2" r="1.35" fill="#111"/>
<circle cx="233.2" cy="222.2" r="1.35" fill="#111"/>
<circle cx="230.6" cy="223.8" r="1.35" fill="#111"/>
<circle cx="240.2" cy="218.5" r="1.35" fill="#111"/>
<circle cx="241.4" cy="219.6" r="1.35" fill="#111"/>
<circle cx="243.3" cy="220.2" r="1.35" fill="#111"/>
<circle cx="242.0" cy="224.0" r="1.35" fill="#111"/>
<circle cx="237.8" cy="226.4" r="1.35" fill="#111"/>
<circle cx="228.0" cy="227.0" r="1.35" fill="#111"/>
<circle cx="225.0" cy="228.4" r="1.35" fill="#111"/>
<circle cx="222.2" cy="223.2" r="1.35" fill="#111"/>
<circle cx="222.6" cy="225.2" r="1.35" fill="#111"/>
<circle cx="243.2" cy="228.2" r="1.35" fill="#111"/>
<circle cx="259.6" cy="216.4" r="1.35" fill="#111"/>
<circle cx="260.4" cy="218.8" r="1.35" fill="#111"/>
<circle cx="246.8" cy="220.4" r="1.35" fill="#111"/>
<circle cx="248.4" cy="221.6" r="1.35" fill="#111"/>
<circle cx="254.4" cy="219.6" r="1.35" fill="#111"/>
<circle cx="255.6" cy="220.6" r="1.35" fill="#111"/>
<circle cx="259.2" cy="222.0" r="1.35" fill="#111"/>
<circle cx="256.8" cy="224.0" r="1.35" fill="#111"/>
<circle cx="258.8" cy="226.0" r="1.35" fill="#111"/>
<circle cx="248.0" cy="226.2" r="1.35" fill="#111"/>
<circle cx="247.0" cy="227.4" r="1.35" fill="#111"/>
<circle cx="259.2" cy="229.0" r="1.35" fill="#111"/>
<circle cx="262.4" cy="228.0" r="1.35" fill="#111"/>
<circle cx="238.6" cy="184.6" r="1.35" fill="#111"/>
<circle cx="222.2" cy="192.5" r="1.35" fill="#111"/>
<circle cx="226.0" cy="191.5" r="1.35" fill="#111"/>
<circle cx="294.5" cy="213.3" r="1.35" fill="#111"/>
<circle cx="265.0" cy="217.0" r="1.35" fill="#111"/>
<circle cx="284.0" cy="224.2" r="1.35" fill="#111"/>
<circle cx="339.5" cy="228.6" r="1.35" fill="#111"/>
<text x="352.8" y="56.8" font-size="11" font-weight="bold" font-family='"Liberation Sans", sans-serif' text-anchor="start" fill="#111" stroke="#111" stroke-width="0.22">D</text>
<line x1="386.2" y1="63.5" x2="386.2" y2="150" stroke="#111" stroke-width="1.0"/>
<line x1="384" y1="150" x2="518.5" y2="150" stroke="#111" stroke-width="1.0"/>
<line x1="382.6" y1="63.8" x2="386.2" y2="63.8" stroke="#111" stroke-width="0.9"/>
<text x="382.4" y="66.1" font-size="6.8" font-weight="bold" font-family='"Liberation Serif", serif' text-anchor="end" fill="#111" stroke="#111" stroke-width="0.408">300</text>
<line x1="382.6" y1="92.5" x2="386.2" y2="92.5" stroke="#111" stroke-width="0.9"/>
<text x="382.4" y="94.8" font-size="6.8" font-weight="bold" font-family='"Liberation Serif", serif' text-anchor="end" fill="#111" stroke="#111" stroke-width="0.408">200</text>
<line x1="382.6" y1="121.2" x2="386.2" y2="121.2" stroke="#111" stroke-width="0.9"/>
<text x="382.4" y="123.5" font-size="6.8" font-weight="bold" font-family='"Liberation Serif", serif' text-anchor="end" fill="#111" stroke="#111" stroke-width="0.408">100</text>
<line x1="382.6" y1="150" x2="386.2" y2="150" stroke="#111" stroke-width="0.9"/>
<text x="382.4" y="152.3" font-size="6.8" font-weight="bold" font-family='"Liberation Serif", serif' text-anchor="end" fill="#111" stroke="#111" stroke-width="0.408">0</text>
<line x1="397.2" y1="150" x2="397.2" y2="152.4" stroke="#111" stroke-width="0.9"/>
<text x="397.2" y="158.8" font-size="6.8" font-weight="bold" font-family='"Liberation Serif", serif' text-anchor="middle" fill="#111" stroke="#111" stroke-width="0.408">0</text>
<line x1="419.3" y1="150" x2="419.3" y2="152.4" stroke="#111" stroke-width="0.9"/>
<text x="419.3" y="158.8" font-size="6.8" font-weight="bold" font-family='"Liberation Serif", serif' text-anchor="middle" fill="#111" stroke="#111" stroke-width="0.408">1</text>
<line x1="441.2" y1="150" x2="441.2" y2="152.4" stroke="#111" stroke-width="0.9"/>
<text x="441.2" y="158.8" font-size="6.8" font-weight="bold" font-family='"Liberation Serif", serif' text-anchor="middle" fill="#111" stroke="#111" stroke-width="0.408">2</text>
<line x1="463.0" y1="150" x2="463.0" y2="152.4" stroke="#111" stroke-width="0.9"/>
<text x="463.0" y="158.8" font-size="6.8" font-weight="bold" font-family='"Liberation Serif", serif' text-anchor="middle" fill="#111" stroke="#111" stroke-width="0.408">3</text>
<line x1="485.2" y1="150" x2="485.2" y2="152.4" stroke="#111" stroke-width="0.9"/>
<text x="485.2" y="158.8" font-size="6.8" font-weight="bold" font-family='"Liberation Serif", serif' text-anchor="middle" fill="#111" stroke="#111" stroke-width="0.408">4</text>
<line x1="507.2" y1="150" x2="507.2" y2="152.4" stroke="#111" stroke-width="0.9"/>
<text x="507.2" y="158.8" font-size="6.8" font-weight="bold" font-family='"Liberation Serif", serif' text-anchor="middle" fill="#111" stroke="#111" stroke-width="0.408">5</text>
<text x="0" y="0" font-size="8.3" font-weight="bold" font-family='"Liberation Serif", serif' text-anchor="middle" fill="#111" stroke="#111" stroke-width="0.498" transform="translate(366.9 106.65) rotate(-90) scale(0.975 1.0)">Plasma LCN2 level (ng/ml)</text>
<text x="453.1" y="175.2" font-size="8.6" font-weight="bold" font-family='"Liberation Serif", serif' text-anchor="middle" fill="#111" stroke="#111" stroke-width="0.516">Number of prognostic variables</text>
<line x1="397.3" y1="117.6" x2="397.3" y2="130.4" stroke="#111" stroke-width="1.1"/>
<line x1="393.7" y1="117.6" x2="400.90000000000003" y2="117.6" stroke="#111" stroke-width="1.2"/>
<line x1="393.7" y1="130.4" x2="400.90000000000003" y2="130.4" stroke="#111" stroke-width="1.2"/>
<line x1="389.8" y1="124.5" x2="404.8" y2="124.5" stroke="#111" stroke-width="1.3"/>
<line x1="419.5" y1="109.6" x2="419.5" y2="122.1" stroke="#111" stroke-width="1.1"/>
<line x1="415.9" y1="109.6" x2="423.1" y2="109.6" stroke="#111" stroke-width="1.2"/>
<line x1="415.9" y1="122.1" x2="423.1" y2="122.1" stroke="#111" stroke-width="1.2"/>
<line x1="411.9" y1="116.2" x2="427.1" y2="116.2" stroke="#111" stroke-width="1.3"/>
<line x1="441.4" y1="103.6" x2="441.4" y2="117.5" stroke="#111" stroke-width="1.1"/>
<line x1="437.4" y1="103.6" x2="445.4" y2="103.6" stroke="#111" stroke-width="1.2"/>
<line x1="437.4" y1="117.5" x2="445.4" y2="117.5" stroke="#111" stroke-width="1.2"/>
<line x1="433.7" y1="111" x2="449.09999999999997" y2="111" stroke="#111" stroke-width="1.3"/>
<line x1="463.2" y1="107.8" x2="463.2" y2="115.8" stroke="#111" stroke-width="1.1"/>
<line x1="459.4" y1="107.8" x2="467.0" y2="107.8" stroke="#111" stroke-width="1.2"/>
<line x1="459.4" y1="115.8" x2="467.0" y2="115.8" stroke="#111" stroke-width="1.2"/>
<line x1="456.0" y1="111.6" x2="470.4" y2="111.6" stroke="#111" stroke-width="1.3"/>
<line x1="485.4" y1="126.8" x2="485.4" y2="142.2" stroke="#111" stroke-width="1.1"/>
<line x1="481.4" y1="126.8" x2="489.4" y2="126.8" stroke="#111" stroke-width="1.2"/>
<line x1="481.4" y1="142.2" x2="489.4" y2="142.2" stroke="#111" stroke-width="1.2"/>
<line x1="477.79999999999995" y1="134.8" x2="493.0" y2="134.8" stroke="#111" stroke-width="1.3"/>
<line x1="507.4" y1="117.3" x2="507.4" y2="135.4" stroke="#111" stroke-width="1.1"/>
<line x1="503.5" y1="117.3" x2="511.29999999999995" y2="117.3" stroke="#111" stroke-width="1.2"/>
<line x1="503.5" y1="135.4" x2="511.29999999999995" y2="135.4" stroke="#111" stroke-width="1.2"/>
<line x1="500.2" y1="126.8" x2="514.6" y2="126.8" stroke="#111" stroke-width="1.3"/>
<circle cx="397.1" cy="69.2" r="1.95" fill="#111"/>
<circle cx="397.2" cy="100" r="1.95" fill="#111"/>
<circle cx="397" cy="109.4" r="1.95" fill="#111"/>
<circle cx="397.5" cy="120.7" r="1.95" fill="#111"/>
<circle cx="391.8" cy="124.5" r="1.95" fill="#111"/>
<circle cx="397.5" cy="127.2" r="1.95" fill="#111"/>
<circle cx="402" cy="125.5" r="1.95" fill="#111"/>
<circle cx="394.3" cy="135" r="1.95" fill="#111"/>
<circle cx="399.7" cy="138.4" r="1.95" fill="#111"/>
<circle cx="392.5" cy="143.2" r="1.95" fill="#111"/>
<circle cx="397.2" cy="147.7" r="1.95" fill="#111"/>
<circle cx="401.6" cy="146.8" r="1.95" fill="#111"/>
<rect x="417.34999999999997" y="72.15" width="3.7" height="3.7" fill="#111"/>
<rect x="412.54999999999995" y="77.15" width="3.7" height="3.7" fill="#111"/>
<rect x="417.34999999999997" y="79.75" width="3.7" height="3.7" fill="#111"/>
<rect x="422.15" y="79.35000000000001" width="3.7" height="3.7" fill="#111"/>
<rect x="414.65" y="104.05000000000001" width="3.7" height="3.7" fill="#111"/>
<rect x="420.15" y="106.35000000000001" width="3.7" height="3.7" fill="#111"/>
<rect x="419.95" y="113.75" width="3.7" height="3.7" fill="#111"/>
<rect x="414.95" y="116.35000000000001" width="3.7" height="3.7" fill="#111"/>
<rect x="414.75" y="122.15" width="3.7" height="3.7" fill="#111"/>
<rect x="420.15" y="125.55000000000001" width="3.7" height="3.7" fill="#111"/>
<rect x="419.75" y="130.75" width="3.7" height="3.7" fill="#111"/>
<rect x="414.65" y="132.35" width="3.7" height="3.7" fill="#111"/>
<rect x="412.54999999999995" y="139.35" width="3.7" height="3.7" fill="#111"/>
<rect x="417.34999999999997" y="138.75" width="3.7" height="3.7" fill="#111"/>
<rect x="417.34999999999997" y="143.45000000000002" width="3.7" height="3.7" fill="#111"/>
<rect x="421.84999999999997" y="143.15" width="3.7" height="3.7" fill="#111"/>
<path d="M441.4 70.9L443.59999999999997 74.8L439.2 74.8Z" fill="#111"/>
<path d="M441.3 77.10000000000001L443.5 81.0L439.1 81.0Z" fill="#111"/>
<path d="M438.9 78.5L441.09999999999997 82.39999999999999L436.7 82.39999999999999Z" fill="#111"/>
<path d="M444 82.2L446.2 86.1L441.8 86.1Z" fill="#111"/>
<path d="M444.1 95.4L446.3 99.3L441.90000000000003 99.3Z" fill="#111"/>
<path d="M438.4 97.7L440.59999999999997 101.6L436.2 101.6Z" fill="#111"/>
<path d="M440.9 104.0L443.09999999999997 107.89999999999999L438.7 107.89999999999999Z" fill="#111"/>
<path d="M440.9 116.2L443.09999999999997 120.1L438.7 120.1Z" fill="#111"/>
<path d="M441.3 121.8L443.5 125.69999999999999L439.1 125.69999999999999Z" fill="#111"/>
<path d="M444.1 128.89999999999998L446.3 132.79999999999998L441.90000000000003 132.79999999999998Z" fill="#111"/>
<path d="M438.6 132.7L440.8 136.6L436.40000000000003 136.6Z" fill="#111"/>
<path d="M438.6 138.1L440.8 142.0L436.40000000000003 142.0Z" fill="#111"/>
<path d="M444.1 138.79999999999998L446.3 142.7L441.90000000000003 142.7Z" fill="#111"/>
<path d="M441.3 145.6L443.5 149.5L439.1 149.5Z" fill="#111"/>
<path d="M463.3 76.1L465.5 72.2L461.1 72.2Z" fill="#111"/>
<path d="M457.5 89.6L459.7 85.7L455.3 85.7Z" fill="#111"/>
<path d="M461.2 91.5L463.4 87.60000000000001L459.0 87.60000000000001Z" fill="#111"/>
<path d="M465.1 91.1L467.3 87.2L462.90000000000003 87.2Z" fill="#111"/>
<path d="M468.7 89.6L470.9 85.7L466.5 85.7Z" fill="#111"/>
<path d="M460.5 100.5L462.7 96.60000000000001L458.3 96.60000000000001Z" fill="#111"/>
<path d="M465.8 101.5L468.0 97.60000000000001L463.6 97.60000000000001Z" fill="#111"/>
<path d="M466 108.3L468.2 104.4L463.8 104.4Z" fill="#111"/>
<path d="M460.6 109.89999999999999L462.8 106.0L458.40000000000003 106.0Z" fill="#111"/>
<path d="M457.6 113.5L459.8 109.60000000000001L455.40000000000003 109.60000000000001Z" fill="#111"/>
<path d="M469 114.7L471.2 110.80000000000001L466.8 110.80000000000001Z" fill="#111"/>
<path d="M463 116.5L465.2 112.60000000000001L460.8 112.60000000000001Z" fill="#111"/>
<path d="M461.2 119.0L463.4 115.10000000000001L459.0 115.10000000000001Z" fill="#111"/>
<path d="M465.2 119.3L467.4 115.4L463.0 115.4Z" fill="#111"/>
<path d="M462.5 115.5L464.7 111.60000000000001L460.3 111.60000000000001Z" fill="#111"/>
<path d="M463.6 119.89999999999999L465.8 116.0L461.40000000000003 116.0Z" fill="#111"/>
<path d="M460.7 124.0L462.9 120.10000000000001L458.5 120.10000000000001Z" fill="#111"/>
<path d="M465.9 122.89999999999999L468.09999999999997 119.0L463.7 119.0Z" fill="#111"/>
<path d="M460.4 129.1L462.59999999999997 125.2L458.2 125.2Z" fill="#111"/>
<path d="M465.9 132.0L468.09999999999997 128.1L463.7 128.1Z" fill="#111"/>
<path d="M457.9 140.60000000000002L460.09999999999997 136.70000000000002L455.7 136.70000000000002Z" fill="#111"/>
<path d="M468.7 140.60000000000002L470.9 136.70000000000002L466.5 136.70000000000002Z" fill="#111"/>
<path d="M461.5 145.4L463.7 141.5L459.3 141.5Z" fill="#111"/>
<path d="M465.1 144.20000000000002L467.3 140.3L462.90000000000003 140.3Z" fill="#111"/>
<path d="M485.6 113.3L487.5 115.2L485.6 117.10000000000001L483.70000000000005 115.2Z" fill="#111"/>
<path d="M485.6 126.50000000000001L487.90000000000003 128.8L485.6 131.10000000000002L483.3 128.8Z" fill="#111"/>
<path d="M482.8 145.9L484.7 147.8L482.8 149.70000000000002L480.90000000000003 147.8Z" fill="#111"/>
<path d="M488 145.5L489.9 147.4L488 149.3L486.1 147.4Z" fill="#111"/>
<circle cx="507.3" cy="109.8" r="1.4" fill="#fff" stroke="#111" stroke-width="1"/>
<circle cx="507.3" cy="130.5" r="1.4" fill="#111" stroke="#111" stroke-width="1"/>
<circle cx="507.2" cy="140.6" r="1.4" fill="#fff" stroke="#111" stroke-width="1"/>
</svg>
</body></html>
